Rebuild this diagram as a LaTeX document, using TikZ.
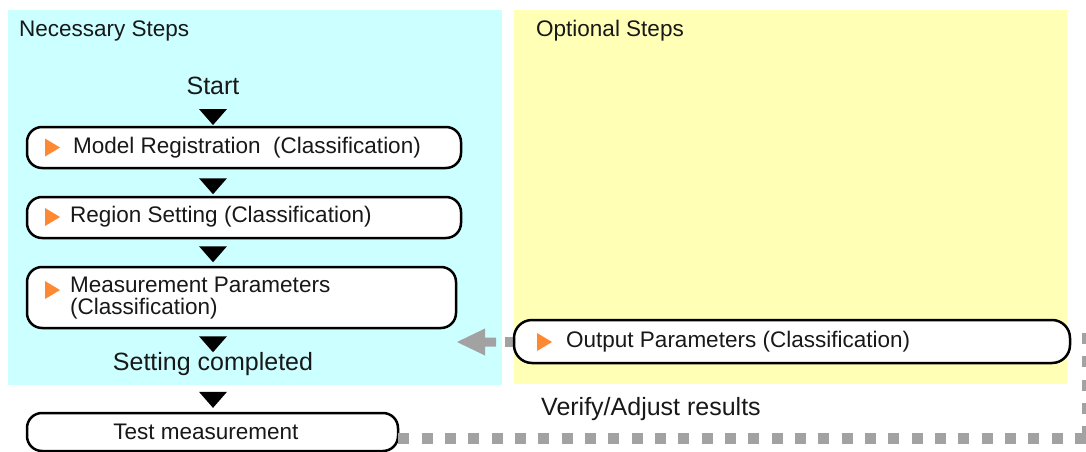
\documentclass[tikz,border=0pt]{standalone}
\usepackage{fontspec}
\setmainfont{Liberation Sans}
\usetikzlibrary{calc}
\definecolor{cyanbg}{RGB}{204,255,255}
\definecolor{yellowbg}{RGB}{255,255,182}
\definecolor{steporange}{RGB}{255,136,51}
\definecolor{loopgray}{RGB}{162,162,162}
\definecolor{txt}{RGB}{24,24,24}
\tikzset{
  stepbox/.style={draw=black, line width=2.5pt, rounded corners=15pt, fill=white, inner sep=0pt},
  boxtext/.style={anchor=west, inner sep=0pt, font=\fontsize{22.5}{22}\selectfont, text=txt, align=left},
  bigtext/.style={inner sep=0pt, font=\fontsize{25}{28}\selectfont, text=txt},
  headtext/.style={anchor=west, inner sep=0pt, font=\fontsize{22.5}{24}\selectfont, text=txt},
  flowtri/.style={fill=black},
  marker/.style={fill=steporange},
  loopline/.style={draw=loopgray, line width=11pt, dash pattern=on 11pt off 12.33pt},
}
\begin{document}
\begin{tikzpicture}[x=1pt,y=-1pt]
\useasboundingbox (0,0) rectangle (1086,452);
\fill[white] (0,0) rectangle (1086,452);
% panels
\node[fill=cyanbg, inner sep=0pt, minimum width=494pt, minimum height=375pt] (necpanel) at (255,197.5) {};
\node[fill=yellowbg, inner sep=0pt, minimum width=553pt, minimum height=374pt] (optpanel) at (790.5,197) {};
\node[headtext] (nechead) at (19,31) {Necessary Steps};
\node[headtext] (opthead) at (536,31) {Optional Steps};

% flow
\node[bigtext] (start) at (213,86) {Start};
\node[stepbox, minimum width=434pt, minimum height=41pt] (b1) at (244,147.5) {};
\node[stepbox, minimum width=434pt, minimum height=41pt] (b2) at (244,217.5) {};
\node[stepbox, minimum width=429pt, minimum height=61pt] (b3) at (241.5,297.5) {};
\node[bigtext] (done) at (213,364) {Setting completed};
\node[stepbox, minimum width=371pt, minimum height=38pt] (test) at (212.5,432) {};

\node[boxtext] (t1) at (73,147.5) {Model Registration\ \ (Classification)};
\node[boxtext] (t2) at (70,217) {Region Setting (Classification)};
\node[boxtext] (t3) at (70,298.5) {Measurement Parameters\\(Classification)};
\node[inner sep=0pt, font=\fontsize{22.5}{22}\selectfont, text=txt] (tt) at (206,432) {Test measurement};

% black flow triangles (centred on x = 213)
\fill[flowtri] ($(start.south)+(-14,14)$) -- ++(28,0) -- ++(-14,16) -- cycle;
\fill[flowtri] ($(b1.south)+(-45,9)$) -- ++(28,0) -- ++(-14,16) -- cycle;
\fill[flowtri] ($(b2.south)+(-45,7)$) -- ++(28,0) -- ++(-14,16) -- cycle;
\fill[flowtri] ($(b3.south)+(-42.5,7)$) -- ++(28,0) -- ++(-14,16) -- cycle;
\fill[flowtri] ($(done.south)+(-14,16)$) -- ++(28,0) -- ++(-14,16) -- cycle;

% orange markers
\fill[marker] (45,138.5) -- ++(15,9) -- ++(-15,9) -- cycle;
\fill[marker] (45,208) -- ++(15,9) -- ++(-15,9) -- cycle;
\fill[marker] (45,281) -- ++(15,9) -- ++(-15,9) -- cycle;

% feedback loop
\coordinate (loopstart) at ($(test.east)+(-1,6)$);
\coordinate (loopcorner) at (1087,438);
\coordinate (looptop) at (1087,333);
\draw[loopline] (loopstart) -- (loopcorner);
\draw[loopline] (looptop) -- (loopcorner);
\fill[loopgray] (505,337) rectangle (516,347);
\fill[loopgray] (457,342) -- (485,328.5) -- (485,337.5) -- (496,337.5) -- (496,346.5) -- (485,346.5) -- (485,355.5) -- cycle;

\node[stepbox, rounded corners=18pt, minimum width=556pt, minimum height=43pt] (out) at (792,341.5) {};
\fill[marker] (537,333) -- ++(15,9) -- ++(-15,9) -- cycle;
\node[boxtext] (to) at (566,342) {Output Parameters (Classification)};

\node[bigtext, anchor=west] (verify) at (541,409) {Verify/Adjust results};
\end{tikzpicture}
\end{document}
